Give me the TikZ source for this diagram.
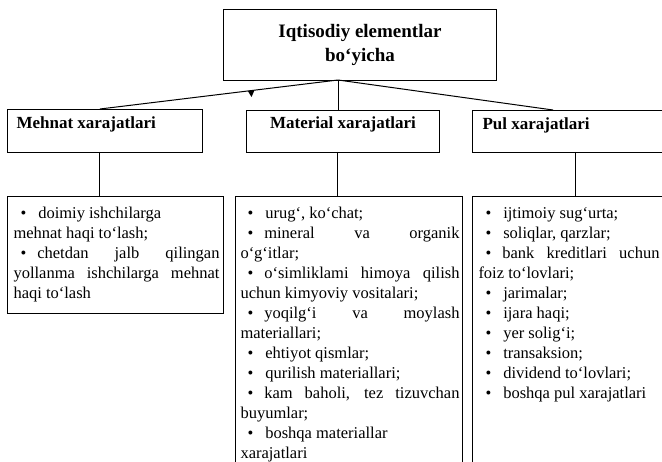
\documentclass[tikz,border=0pt]{standalone}
\usepackage{fontspec}
\setmainfont{Liberation Serif}
\newcommand\bul{\hspace*{7pt}\textbullet\hspace{12pt}}
\newcommand\jbul{\hspace*{7pt}\textbullet\hspace{11pt}}
\newcommand\jl[2]{\makebox[#1pt][s]{#2}}
\begin{document}
\begin{tikzpicture}[x=1pt,y=-1pt,line width=1pt,
  boxx/.style={draw,rectangle,inner sep=0pt,anchor=north west},
  titletext/.style={align=center,inner sep=0pt,font=\fontsize{19}{24}\selectfont\bfseries},
  labtext/.style={inner sep=0pt,font=\fontsize{17}{20}\selectfont\bfseries},
  listtext/.style={inner sep=0pt,anchor=north west,align=left,font=\fontsize{16.5}{20}\selectfont}]
\useasboundingbox (0,0) rectangle (662,462);
\clip (0,0) rectangle (662,462);
% top box
\node[boxx,minimum width=273pt,minimum height=71pt] (top) at (223,9) {};
\node[titletext] (toptitle) at (360,45) {Iqtisodiy elementlar\\bo`yicha};
% second row
\node[boxx,minimum width=195pt,minimum height=43pt] (mehnat) at (7,109) {};
\node[labtext,anchor=west] (mehnatlab) at (16,124) {Mehnat xarajatlari};
\node[boxx,minimum width=193pt,minimum height=42pt] (material) at (246,110) {};
\node[labtext] (materiallab) at (343,124) {Material xarajatlari};
\node[boxx,minimum width=210pt,minimum height=42pt] (pul) at (472,110) {};
\node[labtext,anchor=west] (pullab) at (482,125) {Pul xarajatlari};
% third row
\node[boxx,minimum width=216pt,minimum height=117pt] (mlist) at (7,196) {};
\node[boxx,minimum width=227pt,minimum height=290pt] (matlist) at (235,196) {};
\node[boxx,minimum width=210pt,minimum height=290pt] (pullist) at (472,196) {};
% connector coordinates
\coordinate (hub) at (338,80);
\coordinate (mtop) at (100,109);
\coordinate (ptop) at (553,110);
\coordinate (mbot) at (99,152);
\coordinate (matbot) at (337,152);
\coordinate (pbot) at (575,152);
\draw (hub) -- (mtop);
\draw (hub) -- (hub |- material.north);
\draw (hub) -- (ptop);
\draw (mbot) -- (mbot |- mlist.north);
\draw (matbot) -- (matbot |- matlist.north);
\draw (pbot) -- (pbot |- pullist.north);
\fill (248,91.2) -- (254.5,90.3) -- (251.5,97) -- cycle;
% list texts
\node[listtext] (mtext) at (13,204) {%
\strut\bul doimiy ishchilarga\\
\strut mehnat haqi to`lash;\\
\strut\jl{206}{\jbul chetdan jalb qilingan}\\
\strut\jl{206}{yollanma ishchilarga mehnat}\\
\strut haqi to`lash};
\node[listtext] (mattext) at (240,204) {%
\strut\bul urug`, ko`chat;\\
\strut\jl{219}{\jbul mineral va organik}\\
\strut o`g`itlar;\\
\strut\jl{219}{\jbul o`simliklami himoya qilish}\\
\strut uchun kimyoviy vositalari;\\
\strut\jl{219}{\jbul yoqilg`i va moylash}\\
\strut materiallari;\\
\strut\bul ehtiyot qismlar;\\
\strut\bul qurilish materiallari;\\
\strut\jl{219}{\jbul kam baholi, tez tizuvchan}\\
\strut buyumlar;\\
\strut\bul boshqa materiallar\\
\strut xarajatlari};
\node[listtext] (pultext) at (478,204) {%
\strut\bul ijtimoiy sug`urta;\\
\strut\bul soliqlar, qarzlar;\\
\strut\jl{181}{\jbul bank kreditlari uchun}\\
\strut foiz to`lovlari;\\
\strut\bul jarimalar;\\
\strut\bul ijara haqi;\\
\strut\bul yer solig`i;\\
\strut\bul transaksion;\\
\strut\bul dividend to`lovlari;\\
\strut\bul boshqa pul xarajatlari};
\end{tikzpicture}
\end{document}
